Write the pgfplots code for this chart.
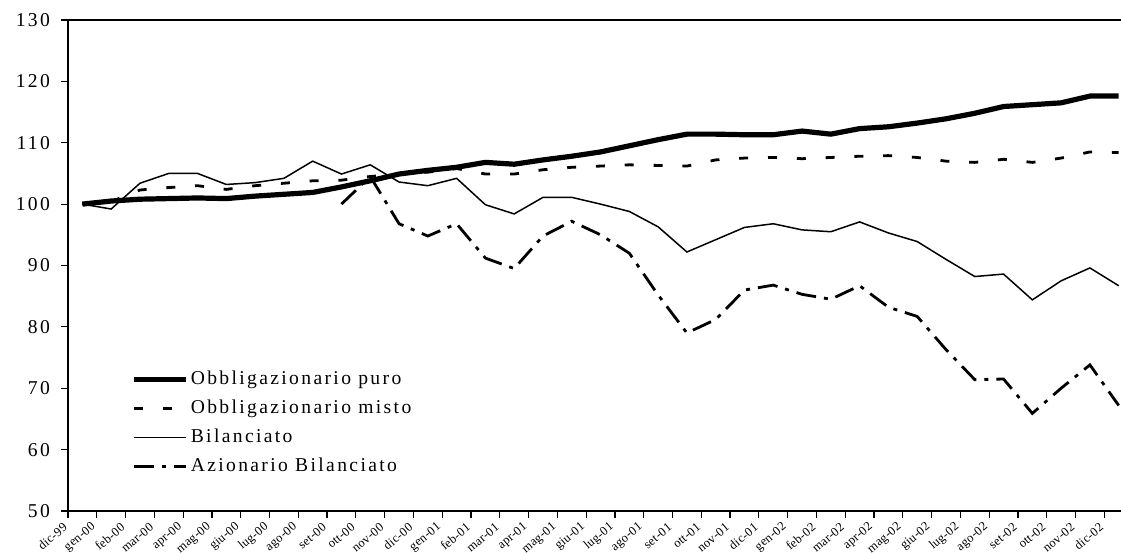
\documentclass[border=0pt]{standalone}
\usepackage{fontspec}
\setmainfont[LetterSpace=12]{Liberation Serif}
\newfontfamily\tickfont[LetterSpace=2]{Liberation Serif}
\usepackage{pgfplots}
\usepackage{pgfplotstable}
\pgfplotsset{compat=1.18}

% indici mensili, base dic-99 = 100
\pgfplotstableread{
idx puro  misto bil   az
0   100.0 100.0 100.0 nan
1   100.5 100.4 99.2  nan
2   100.8 102.3 103.4 nan
3   100.9 102.7 105.0 nan
4   101.0 103.0 105.0 nan
5   100.9 102.4 103.2 nan
6   101.3 103.0 103.5 nan
7   101.6 103.4 104.2 nan
8   101.9 103.8 107.0 nan
9   102.8 103.9 104.9 100.0
10  103.8 104.5 106.4 104.5
11  104.9 104.9 103.6 96.8
12  105.5 105.2 103.0 94.8
13  106.0 105.8 104.2 96.8
14  106.8 104.9 99.9  91.2
15  106.5 104.9 98.4  89.5
16  107.2 105.6 101.1 94.8
17  107.8 106.0 101.1 97.2
18  108.5 106.2 100.0 95.0
19  109.5 106.4 98.8  92.0
20  110.5 106.3 96.3  85.2
21  111.4 106.2 92.2  79.0
22  111.4 107.2 94.2  81.2
23  111.3 107.5 96.2  86.0
24  111.3 107.6 96.8  86.8
25  111.9 107.4 95.8  85.3
26  111.4 107.6 95.5  84.5
27  112.3 107.8 97.1  86.7
28  112.6 107.9 95.3  83.2
29  113.2 107.6 93.9  81.7
30  113.9 107.0 91.0  76.3
31  114.8 106.8 88.2  71.4
32  115.9 107.3 88.6  71.5
33  116.2 106.8 84.4  65.9
34  116.5 107.5 87.5  70.0
35  117.6 108.5 89.6  73.8
36  117.6 108.4 86.7  67.2
}\fondi

\begin{document}
\begin{tikzpicture}
\begin{axis}[
  scale only axis,
  width=526.5pt, height=245.5pt,
  xmin=-0.5, xmax=36.08,
  ymin=50, ymax=130,
  axis lines=left,
  axis line style={-, line width=0.7pt},
  tick style={line width=0.6pt, black},
  tick align=outside,
  major tick length=3.5pt,
  xtick pos=bottom, ytick pos=left,
  ytick={50,60,...,130},
  xtick={-0.5,0.5,...,35.5},
  xticklabels={dic-99,gen-00,feb-00,mar-00,apr-00,mag-00,giu-00,lug-00,ago-00,set-00,ott-00,nov-00,
    dic-00,gen-01,feb-01,mar-01,apr-01,mag-01,giu-01,lug-01,ago-01,set-01,ott-01,nov-01,
    dic-01,gen-02,feb-02,mar-02,apr-02,mag-02,giu-02,lug-02,ago-02,set-02,ott-02,nov-02,dic-02},
  xticklabel style={font=\tickfont\fontsize{6.3}{7}\selectfont, rotate=40, anchor=east, yshift=-2pt, xshift=0pt},
  yticklabel style={font=\fontsize{9.8}{10}\selectfont, xshift=-2pt},
  /pgf/number format/assume math mode=true,
  legend cell align=left,
  legend image code/.code={\draw[#1] (0pt,0pt) -- (26pt,0pt);},
  legend style={draw=none, fill=none, at={(rel axis cs:0.06,0.29)}, anchor=north west,
    font=\fontsize{9.8}{10}\selectfont, row sep=4.2pt, inner sep=0pt,
    nodes={inner sep=1pt}},
]
\addplot[black, line width=2.6pt] table[x=idx, y=puro] {\fondi};
\addlegendentry{Obbligazionario puro}
\addplot[black, line width=1.4pt, dash pattern=on 4.5pt off 9.9pt] table[x=idx, y=misto] {\fondi};
\addlegendentry{Obbligazionario misto}
\addplot[black, line width=0.75pt] table[x=idx, y=bil] {\fondi};
\addlegendentry{Bilanciato}
\addplot[black, line width=1.4pt, dash pattern=on 10pt off 4pt on 2pt off 4pt, unbounded coords=jump] table[x=idx, y=az] {\fondi};
\addlegendentry{Azionario Bilanciato}
\draw[line width=0.7pt] (rel axis cs:0,1) -- (rel axis cs:1,1);
\coordinate (SW) at (rel axis cs:0,0);
\coordinate (NE) at (rel axis cs:1,1);
\end{axis}
\pgfresetboundingbox
\path ([xshift=-34pt,yshift=-21pt]SW) rectangle ([yshift=10pt]NE);
\end{tikzpicture}
\end{document}
